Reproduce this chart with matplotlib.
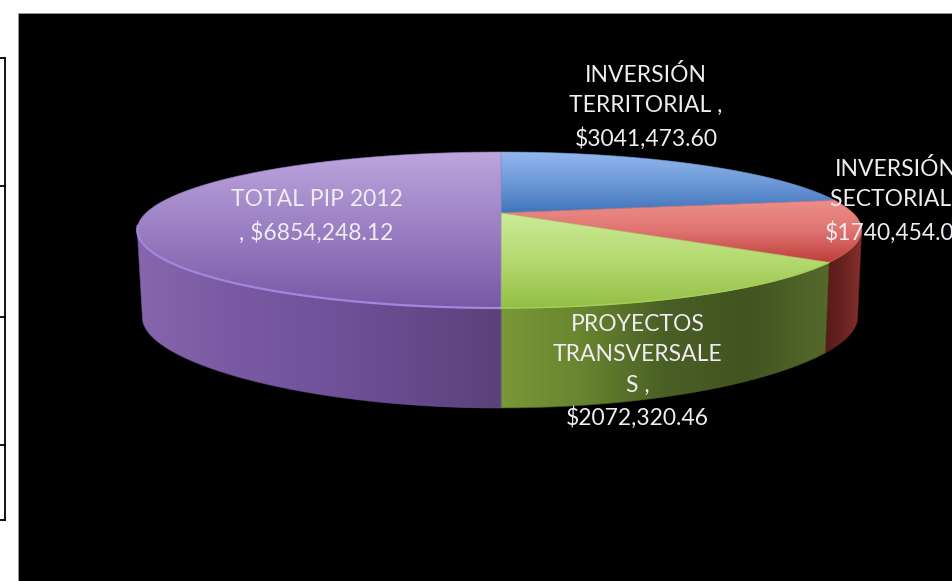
import numpy as np
import matplotlib
matplotlib.use("Agg")
import matplotlib.pyplot as plt
from matplotlib.colors import LinearSegmentedColormap
from matplotlib.patches import Rectangle
from matplotlib.path import Path

plt.rcParams["font.family"] = ["Lato", "DejaVu Sans"]

# slice values, clockwise from 12 o'clock
categories = ["INVERSIÓN TERRITORIAL", "INVERSIÓN SECTORIAL", "PROYECTOS TRANSVERSALES", "TOTAL PIP 2012"]
values = [3041473.60, 1740454.06, 2072320.46, 6854248.12]
labels = [
    "INVERSIÓN\nTERRITORIAL ,\n$3041,473.60",
    "INVERSIÓN\nSECTORIAL ,\n$1740,454.06",
    "PROYECTOS\nTRANSVERSALE\nS ,\n$2072,320.46",
    "TOTAL PIP 2012\n, $6854,248.12",
]
label_pos = [(646, 106.5), (896, 200.5), (637.5, 371.5), (316.5, 216.5)]

# vertical gradient of each top face, (dark stops at the bottom)
top_colors = [
    ["#93b8ee", "#6f9ad8", "#3f74ba"],
    ["#ee8f8a", "#df7370", "#bd3d39"],
    ["#cdea9a", "#b5da70", "#93bf45"],
    ["#bda6de", "#9a7fc2", "#7858a6"],
]
# horizontal gradient of each side wall
side_colors = [
    ["#2f5a90", "#2f5a90"],
    ["#571b18", "#6a2320", "#86302c"],
    ["#7b9838", "#68842f", "#4a5f25", "#425420", "#56692c"],
    ["#8667ad", "#7a5ba3", "#71539b", "#654a8c", "#5b417a"],
]

CX = 501
KX = 0.218


def rim(t, a_left, a_right, b, ky, y0):
    # perspective circle, t is clockwise from the far point
    X, Y = np.sin(t), np.cos(t)
    a = np.where(X < 0, a_left, a_right)
    return CX + a * X / (1 + KX * Y), y0 - b * Y / (1 + ky * Y)


def top_rim(t):
    return rim(t, 355, 352, 74.3, 0.218, 213)


def bottom_rim(t):
    return rim(t, 350, 348, 74.5, 0.31, 300)


def gradient(ax, verts, colors, horizontal, zorder):
    verts = np.asarray(verts)
    cmap = LinearSegmentedColormap.from_list("g", colors)
    ramp = np.linspace(0, 1, 256)
    img = ramp[None, :] if horizontal else ramp[:, None]
    x0, x1 = verts[:, 0].min(), verts[:, 0].max()
    y0, y1 = verts[:, 1].min(), verts[:, 1].max()
    im = ax.imshow(img, cmap=cmap, extent=(x0, x1, y1, y0), origin="upper",
                   aspect="auto", zorder=zorder, interpolation="bilinear")
    im.set_clip_path(Path(np.vstack([verts, verts[:1]]), closed=True), transform=ax.transData)
    # soften the aliased clip edge
    ax.plot(*np.vstack([verts, verts[:1]]).T, color=colors[len(colors) // 2], lw=0.7,
            alpha=0.6, zorder=zorder, solid_joinstyle="round")


fig = plt.figure(figsize=(9.52, 5.81), dpi=100, facecolor="white")
ax = fig.add_axes([0, 0, 1, 1])
ax.add_patch(Rectangle((18, 13), 934, 568, facecolor="black", edgecolor="#9a9a9a", lw=0.6, zorder=1))

# piece of a table at the left border
ax.plot([5.2, 5.2], [58, 520], color="black", lw=1.3, zorder=1)
for y in [58, 186, 317, 445, 520]:
    ax.plot([0, 5.2], [y, y], color="black", lw=1.3, zorder=1)

fractions = np.cumsum([0] + values) / sum(values)
angles = 2 * np.pi * fractions

# the wall only shows between the two silhouette points of the rim
t_right = np.arccos(-KX)
t_left = 2 * np.pi - t_right

for i in range(4):
    t0, t1 = max(angles[i], t_right), min(angles[i + 1], t_left)
    if t1 <= t0:
        continue
    t = np.linspace(t0, t1, 200)
    xt, yt = top_rim(t)
    xb, yb = bottom_rim(t)
    verts = np.column_stack([np.r_[xt, xb[::-1]], np.r_[yt, yb[::-1]]])
    gradient(ax, verts, side_colors[i], True, 2 + i)

for i in range(4):
    t = np.linspace(angles[i], angles[i + 1], 200)
    xt, yt = top_rim(t)
    verts = np.column_stack([np.r_[CX, xt], np.r_[213, yt]])
    gradient(ax, verts, top_colors[i], False, 10 + i)

# light bevel on the front edge of the purple and green slices
t = np.linspace(angles[3], t_left + 0.05, 200)
ax.plot(*top_rim(t), color="#a285dd", lw=1.6, zorder=15)
t = np.linspace(angles[2], angles[3], 100)
ax.plot(*top_rim(t), color="#a6cf58", lw=1.0, zorder=15)

for text, (x, y) in zip(labels, label_pos):
    ax.text(x, y, text, color="#efecf2", fontsize=16.5, ha="center", va="center",
            linespacing=1.57, zorder=20)

ax.set_xlim(0, 952)
ax.set_ylim(581, 0)
ax.axis("off")
fig.savefig("out.png", dpi=100)
